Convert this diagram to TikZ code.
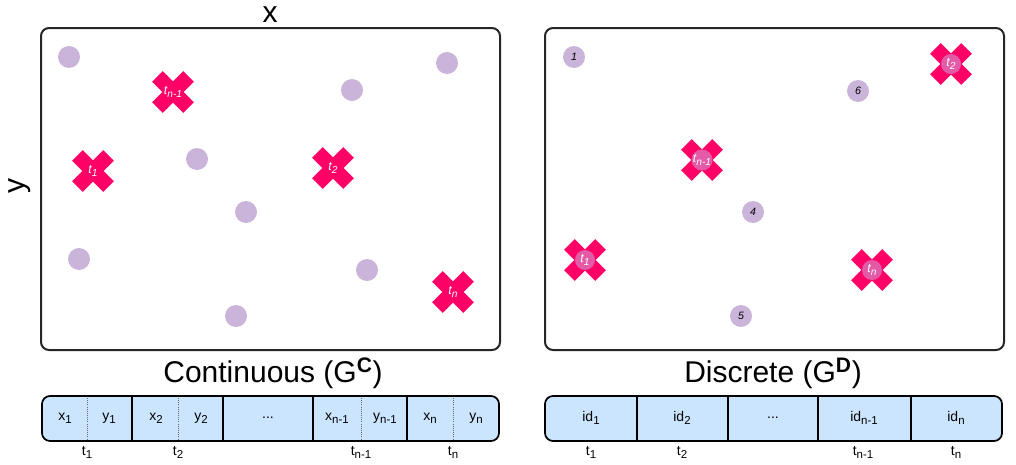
\documentclass[tikz,border=0pt]{standalone}
\usepackage{fontspec}
\setmainfont{Liberation Sans}
\definecolor{dotc}{HTML}{CAB4DA}
\definecolor{crossc}{HTML}{FF0066}
\definecolor{innerc}{HTML}{E35AA6}
\definecolor{barc}{HTML}{CCE5FF}
\newcommand{\sbs}[1]{\raisebox{-0.4ex}{\scalebox{0.82}{#1}}}
\tikzset{
  dotnode/.style={circle,fill=dotc,minimum size=16.5pt,inner sep=0pt,font=\itshape\fontsize{8}{9}\selectfont},
  crosslabel/.style={text=white,inner sep=0pt,font=\itshape\fontsize{9.3}{10}\selectfont},
  innerdot/.style={circle,fill=innerc,minimum size=15pt,inner sep=0pt,text=white,font=\itshape\fontsize{9.3}{10}\selectfont},
  panel/.style={draw=black!85,line width=1.5pt,rounded corners=6pt},
  bar/.style={draw=black,line width=1.3pt,fill=barc,rounded corners=6pt},
  divider/.style={draw=black,line width=1.1pt},
  dotdiv/.style={draw=black!60,densely dotted,line width=0.6pt},
  celltext/.style={font=\fontsize{10.5}{11}\selectfont,inner sep=0pt},
  tlabel/.style={font=\fontsize{10.5}{11}\selectfont,inner sep=0pt},
  caption/.style={font=\fontsize{22.5}{26}\selectfont,inner sep=0pt},
}
\newcommand{\xcross}[1]{%
  \begin{scope}[shift={#1},rotate=45]
    \fill[crossc] (-22,-7.5) rectangle (22,7.5);
    \fill[crossc] (-7.5,-22) rectangle (7.5,22);
  \end{scope}}
\begin{document}
\begin{tikzpicture}[x=0.75pt,y=-0.75pt]
\useasboundingbox (0,0) rectangle (1016,464);
% axes labels
\node[caption,anchor=base] (xlab) at (270,22) {x};
\node[caption,rotate=90] (ylab) at (20,186) {y};
% panels
\draw[panel] (41,28) rectangle (500,350);
\draw[panel] (545,28) rectangle (1004,350);
% left dots
\node[dotnode] (l1) at (69,57) {};
\node[dotnode] (l2) at (447,63) {};
\node[dotnode] (l3) at (352,90) {};
\node[dotnode] (l4) at (197,159) {};
\node[dotnode] (l5) at (246,212) {};
\node[dotnode] (l6) at (79,259) {};
\node[dotnode] (l7) at (367,270) {};
\node[dotnode] (l8) at (236,316) {};
% left crosses
\xcross{(173,92)}
\node[crosslabel] (lc1) at (173,92) {t\sbs{n-1}};
\xcross{(93,171)}
\node[crosslabel] (lc2) at (93,171) {t\sbs{1}};
\xcross{(333,168)}
\node[crosslabel] (lc3) at (333,168) {t\sbs{2}};
\xcross{(453,292)}
\node[crosslabel] (lc4) at (453,292) {t\sbs{n}};
% right dots
\node[dotnode] (r1) at (574,57) {1};
\node[dotnode] (r6) at (858,91) {6};
\node[dotnode] (r4) at (753,212) {4};
\node[dotnode] (r5) at (741,316) {5};
% right crosses
\xcross{(702,160)}
\node[innerdot] (rc1) at (702,160) {t\sbs{n-1}};
\xcross{(585,260)}
\node[innerdot] (rc2) at (585,260) {t\sbs{1}};
\xcross{(951,64)}
\node[innerdot] (rc3) at (951,64) {t\sbs{2}};
\xcross{(872,270)}
\node[innerdot] (rc4) at (872,270) {t\sbs{n}};
% captions
\node[caption] (capc) at (273,373) {Continuous (G\textsuperscript{\textbf{C}})};
\node[caption] (capd) at (773,373) {Discrete (G\textsuperscript{\textbf{D}})};
% left bar
\draw[bar] (42,396) rectangle (499,441);
\draw[divider] (132,396) -- (132,441);
\draw[divider] (223,396) -- (223,441);
\draw[divider] (313,396) -- (313,441);
\draw[divider] (407,396) -- (407,441);
\draw[dotdiv] (87,398) -- (87,439);
\draw[dotdiv] (178,398) -- (178,439);
\draw[dotdiv] (361,398) -- (361,439);
\draw[dotdiv] (453,398) -- (453,439);
\node[celltext] (cx1) at (65,418) {x\sbs{1}};
\node[celltext] (cy1) at (109,418) {y\sbs{1}};
\node[celltext] (cx2) at (156,418) {x\sbs{2}};
\node[celltext] (cy2) at (201,418) {y\sbs{2}};
\node[celltext] (cdl) at (268,418) {...};
\node[celltext] (cxn1) at (337,418) {x\sbs{n-1}};
\node[celltext] (cyn1) at (385,418) {y\sbs{n-1}};
\node[celltext] (cxn) at (430,418) {x\sbs{n}};
\node[celltext] (cyn) at (476,418) {y\sbs{n}};
\node[tlabel] (lt1) at (87,452) {t\sbs{1}};
\node[tlabel] (lt2) at (178,452) {t\sbs{2}};
\node[tlabel] (ltn1) at (361,452) {t\sbs{n-1}};
\node[tlabel] (ltn) at (453,452) {t\sbs{n}};
% right bar
\draw[bar] (545,396) rectangle (1002,441);
\draw[divider] (637,396) -- (637,441);
\draw[divider] (728,396) -- (728,441);
\draw[divider] (818,396) -- (818,441);
\draw[divider] (911,396) -- (911,441);
\node[celltext] (id1) at (591,418) {id\sbs{1}};
\node[celltext] (id2) at (682,418) {id\sbs{2}};
\node[celltext] (idd) at (773,418) {...};
\node[celltext] (idn1) at (864,418) {id\sbs{n-1}};
\node[celltext] (idn) at (956,418) {id\sbs{n}};
\node[tlabel] (rt1) at (591,452) {t\sbs{1}};
\node[tlabel] (rt2) at (682,452) {t\sbs{2}};
\node[tlabel] (rtn1) at (863,452) {t\sbs{n-1}};
\node[tlabel] (rtn) at (956,452) {t\sbs{n}};
\end{tikzpicture}
\end{document}
